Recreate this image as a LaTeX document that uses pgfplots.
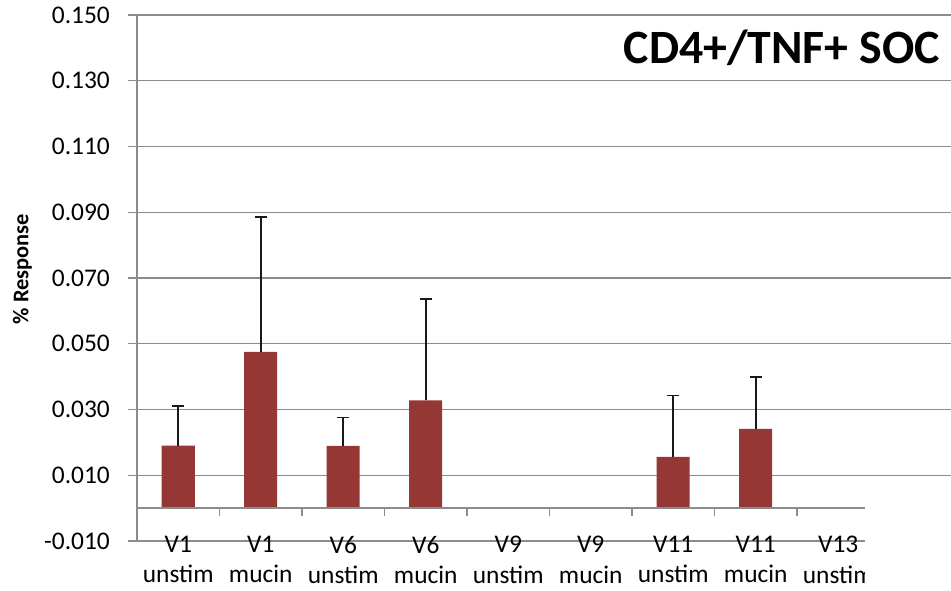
\documentclass[border=0pt]{standalone}
\usepackage{pgfplots}
\pgfplotsset{compat=1.18}
\usepackage{pgfplotstable}
\usetikzlibrary{calc}
\usepackage{fontspec}
\setmainfont{Carlito}
\definecolor{barred}{HTML}{953735}
\definecolor{gridgray}{HTML}{8C8C8C}

% V9 unstim (4), V9 mucin (5) and V13 unstim (8) are empty (no bar)
\pgfplotstableread{
x y ey
0 0.0190 0.0120
1 0.0475 0.0410
2 0.0189 0.0087
3 0.0328 0.0308
6 0.0156 0.0187
7 0.0241 0.0158
}\datatable

\begin{document}
\begin{tikzpicture}
\useasboundingbox (0bp,0bp) rectangle (951bp,591bp);
\begin{axis}[
  name=ax,
  at={(137bp,50bp)}, anchor=south west,
  scale only axis, width=814bp, height=526bp,
  xmin=-0.5, xmax=9.367, ymin=-0.010, ymax=0.150,
  axis y line*=left, axis x line*=bottom,
  x axis line style={draw=none},
  y axis line style={gridgray, line width=1.3bp},
  ytick={-0.01,0.01,0.03,0.05,0.07,0.09,0.11,0.13,0.15},
  yticklabels={},
  ytick style={gridgray, line width=1.3bp},
  major tick length=9bp, tick align=outside,
  ymajorgrids, grid style={gridgray, line width=1.3bp},
  xtick={0,...,8},
  xticklabels={{V1\\unstim},{V1\\mucin},{V6\\unstim},{V6\\mucin},{V9\\unstim},{V9\\mucin},{V11\\unstim},{V11\\mucin},{V13\\unstim}},
  xticklabel style={align=center, font=\fontsize{25.5}{30.5}\selectfont, anchor=north, inner sep=0pt, yshift=14bp},
  xtick style={draw=none},
  ybar, bar width=33bp,
]
\addplot[fill=barred, draw=none,
  error bars/.cd, y dir=plus, y explicit,
  error bar style={black!90, line width=1.6bp},
  error mark options={rotate=90, mark size=6bp, black!90, line width=1.6bp}]
  table[x=x, y=y, y error=ey] {\datatable};
\draw[gridgray, line width=1.3bp] (axis cs:-0.5,0) -- (axis cs:8.32,0);
\foreach \b in {0.5,1.5,2.5,3.5,4.5,5.5,6.5,7.5}{
  \edef\temp{\noexpand\draw[gridgray, line width=1.3bp] (axis cs:\b,0) -- ([yshift=-8bp]axis cs:\b,0);}
  \temp
}
\end{axis}
% y tick labels, one per gridline (every 0.020 from -0.010)
\foreach \lab [count=\i from 0] in {-0.010,0.010,0.030,0.050,0.070,0.090,0.110,0.130,0.150}{
  \node[anchor=east, inner sep=0pt, font=\fontsize{25.5}{30}\selectfont]
    at ($(ax.south west)+(-27bp,{\i*65.75bp})$) {\lab};
}
\fill[white] (865bp,0bp) rectangle (952bp,95bp);
\node[anchor=east, font=\bfseries\fontsize{48}{56}\selectfont, inner sep=0pt] at (940bp,543.5bp) {CD4+/TNF+ SOC};
\node[rotate=90, font=\bfseries\fontsize{22.5}{26}\selectfont, inner sep=0pt] at (22.5bp,322bp) {\% Response};
\end{tikzpicture}
\end{document}
